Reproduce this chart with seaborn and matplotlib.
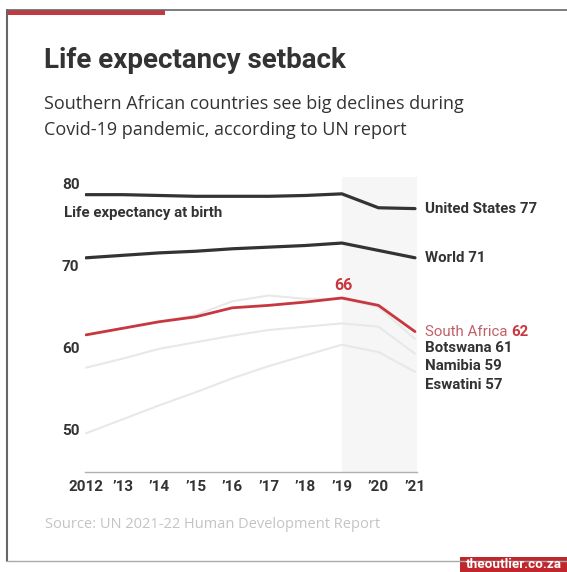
import matplotlib
matplotlib.use("Agg")
import matplotlib.pyplot as plt
from matplotlib.lines import Line2D
from matplotlib.patches import Rectangle
import pandas as pd
import seaborn as sns

# Life expectancy at birth, 2012-2021 (UN Human Development Report 2021/22)
years = [2012, 2013, 2014, 2015, 2016, 2017, 2018, 2019, 2020, 2021]
year_labels = ["2012", "’13", "’14", "’15", "’16", "’17", "’18", "’19", "’20", "’21"]
united_states = [78.7, 78.7, 78.6, 78.5, 78.5, 78.5, 78.6, 78.8, 77.1, 77.0]
world = [71.0, 71.3, 71.6, 71.8, 72.1, 72.3, 72.5, 72.8, 71.9, 71.0]
south_africa = [61.6, 62.4, 63.2, 63.8, 64.9, 65.2, 65.6, 66.1, 65.2, 62.0]
botswana = [61.6, 62.4, 63.2, 64.0, 65.7, 66.4, 66.0, 66.0, 65.0, 61.1]
namibia = [57.6, 58.7, 59.9, 60.7, 61.5, 62.2, 62.6, 63.0, 62.6, 59.3]
eswatini = [49.6, 51.3, 53.0, 54.6, 56.3, 57.8, 59.1, 60.4, 59.5, 57.1]

series = {
    "Eswatini": eswatini,
    "Namibia": namibia,
    "Botswana": botswana,
    "South Africa": south_africa,
    "World": world,
    "United States": united_states,
}

df = pd.DataFrame(
    [(name, y, v) for name, vals in series.items() for y, v in zip(years, vals)],
    columns=["country", "year", "life_expectancy"],
)

DARK = "#333333"
RED = "#c8373f"
FAINT = "#e8e8e8"
palette = {
    "Eswatini": FAINT,
    "Namibia": FAINT,
    "Botswana": FAINT,
    "South Africa": RED,
    "World": DARK,
    "United States": DARK,
}
widths = {
    "Eswatini": 1.5, "Namibia": 1.5, "Botswana": 1.5,
    "South Africa": 2.0, "World": 2.3, "United States": 2.3,
}

sns.set_theme(style="white")
plt.rcParams["font.family"] = ["Roboto", "DejaVu Sans"]

W, H = 567, 572
fig = plt.figure(figsize=(W / 100, H / 100), dpi=100)
fig.patch.set_facecolor("white")

# plot area in pixel terms
px_left, px_right, px_top, px_bottom = 85, 417, 177, 472
ax = fig.add_axes([px_left / W, 1 - px_bottom / H,
                   (px_right - px_left) / W, (px_bottom - px_top) / H])
ax.set_facecolor("none")

ppy = (415 - 86) / 9.0
ax.set_xlim(2012 - 1 / ppy, 2021 + 2 / ppy)
ax.set_ylim(80 - (px_bottom - 184) / 8.2, 80 + (184 - px_top) / 8.2)

# highlighted pandemic period
ax.axvspan(2019, 2021 + 2 / ppy, color="#f6f6f6", zorder=0, lw=0)

for name in series:
    sns.lineplot(data=df[df["country"] == name], x="year", y="life_expectancy",
                 color=palette[name], lw=widths[name], ax=ax, legend=False,
                 zorder=3 if name in ("South Africa", "World", "United States") else 2)

ax.set_xlabel("")
ax.set_ylabel("")
for s in ["top", "right", "left"]:
    ax.spines[s].set_visible(False)
ax.spines["bottom"].set_color("#b0b0b0")
ax.spines["bottom"].set_linewidth(1.0)

ax.set_xticks(years)
ax.set_xticklabels(year_labels)
ax.tick_params(axis="x", direction="in", length=3, width=0.8, color="#b0b0b0",
               pad=6, labelsize=11, labelcolor=DARK)
for lbl in ax.get_xticklabels():
    lbl.set_fontweight("bold")

ax.set_yticks([50, 60, 70, 80])
ax.set_yticklabels(["50", "60", "70", "80"])
ax.tick_params(axis="y", length=0, pad=4, labelsize=11, labelcolor=DARK)
for lbl in ax.get_yticklabels():
    lbl.set_fontweight("bold")
    lbl.set_horizontalalignment("right")

ax.text(2012 - 22 / ppy, 80 - 29 / 8.2, "Life expectancy at birth", fontsize=10.8,
        color=DARK, fontweight="bold", ha="left", va="center")

# end-of-line labels
LFS = 10.8
lx = 2021 + 10 / ppy
def end_label(y, text, color=DARK, weight="bold"):
    ax.text(lx, y, text, fontsize=LFS, color=color, fontweight=weight,
            ha="left", va="center", clip_on=False)

end_label(united_states[-1], f"United States {round(united_states[-1])}")
end_label(world[-1], f"World {round(world[-1])}")
sa_txt = ax.text(lx, south_africa[-1], "South Africa ", fontsize=LFS,
                 color="#c26068", ha="left", va="center", clip_on=False)
fig.canvas.draw()
bb = sa_txt.get_window_extent()
x_after = ax.transData.inverted().transform((bb.x1, bb.y0))[0]
ax.text(x_after, south_africa[-1], f"{round(south_africa[-1])}", fontsize=LFS,
        color=RED, fontweight="bold", ha="left", va="center", clip_on=False)
end_label(botswana[-1] - 1.1, f"Botswana {round(botswana[-1])}")
end_label(namibia[-1] - 1.5, f"Namibia {round(namibia[-1])}")
end_label(eswatini[-1] - 1.6, f"Eswatini {round(eswatini[-1])}")

peak = max(south_africa)
ax.text(2019 + 0.05, peak + 1.5, f"{round(peak)}", fontsize=11.5, color=RED,
        fontweight="bold", ha="center", va="center")

# titles
fig.text(44 / W, 1 - 61 / H, "Life expectancy setback", fontsize=20,
         fontweight="bold", color=DARK, family=["Roboto", "DejaVu Sans"],
         ha="left", va="center")
fig.text(44 / W, 1 - 104 / H, "Southern African countries see big declines during",
         fontsize=13, color=DARK, family=["Open Sans", "DejaVu Sans"],
         ha="left", va="center")
fig.text(44 / W, 1 - 130 / H, "Covid-19 pandemic, according to UN report",
         fontsize=13, color=DARK, family=["Open Sans", "DejaVu Sans"],
         ha="left", va="center")

fig.text(45 / W, 1 - 525 / H, "Source: UN 2021-22 Human Development Report",
         fontsize=10.5, color="#c4c4c4", family=["Open Sans", "DejaVu Sans"],
         ha="left", va="center")

# page frame with red accent
fig.add_artist(Line2D([7 / W, 1], [1 - 10 / H, 1 - 10 / H], color="#666666",
                      lw=1.2, transform=fig.transFigure))
fig.add_artist(Line2D([7 / W, 7 / W], [1 - 10 / H, 1 - 561 / H], color="#666666",
                      lw=1.5, transform=fig.transFigure))
fig.add_artist(Line2D([7 / W, 1], [1 - 561 / H, 1 - 561 / H], color="#aaaaaa",
                      lw=1.0, transform=fig.transFigure))
fig.add_artist(Rectangle((7 / W, 1 - 15 / H), (165 - 7) / W, 5 / H,
                         transform=fig.transFigure, color="#c8373f", lw=0))

# site badge
fig.add_artist(Rectangle((460 / W, 0), (W - 460) / W, 15 / H,
                         transform=fig.transFigure, color="#c0272d", lw=0))
fig.text(514 / W, 1 - 564.5 / H, "theoutlier.co.za", fontsize=9.7, color="white",
         fontweight="bold", ha="center", va="center")

fig.savefig("out.png", dpi=100)
